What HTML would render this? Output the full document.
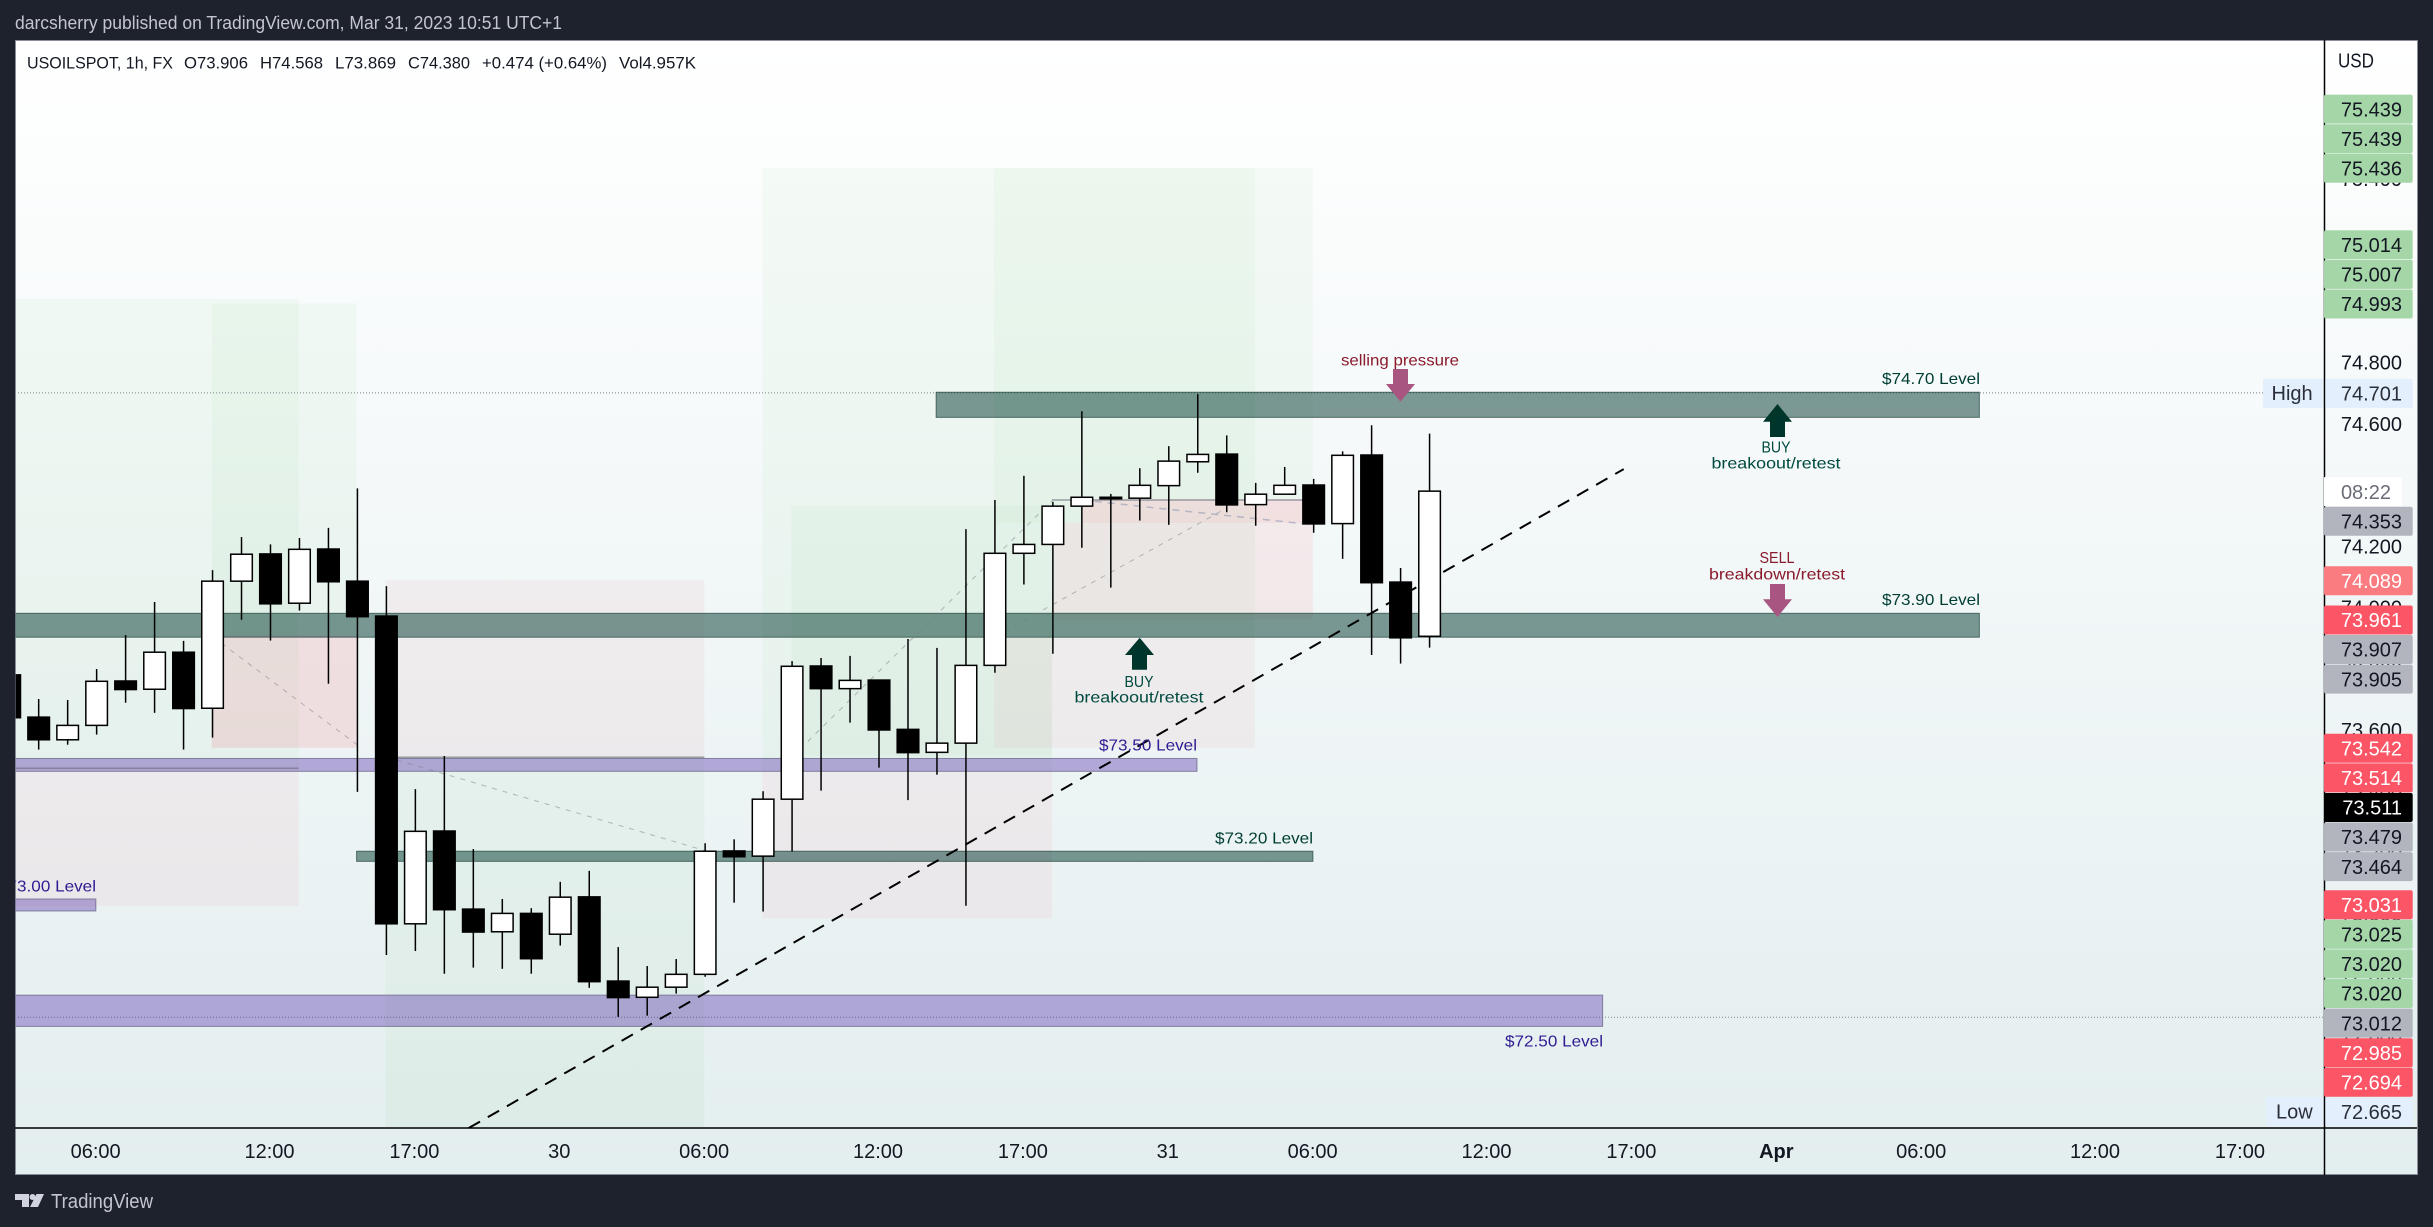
<!DOCTYPE html>
<html lang="en">
<head>
<meta charset="utf-8">
<title>USOILSPOT 1h chart</title>
<style>
html,body{margin:0;padding:0;background:#1e222d;width:2433px;height:1227px;overflow:hidden}
svg{display:block;position:absolute;left:0;top:0}
text{font-family:"Liberation Sans",Arial,sans-serif}
.lvl{font-size:16px;fill:#003d33}
.buy{font-size:16px;fill:#004a3f}
.sell{font-size:16px;fill:#8a1a2c}
.pur{font-size:16px;fill:#311b92}
.leg{font-size:17px;fill:#131722}
</style>
</head>
<body>
<svg id="chart" xmlns="http://www.w3.org/2000/svg" width="2433" height="1227" viewBox="0 0 2433 1227">
  <defs>
    <linearGradient id="bg" x1="0" y1="0" x2="0" y2="1">
      <stop offset="0" stop-color="#ffffff"/>
      <stop offset="1" stop-color="#e3eeef"/>
    </linearGradient>
    <clipPath id="plotClip"><rect x="15.5" y="40.5" width="2308.5" height="1087"/></clipPath>
  </defs>

  <text x="15" y="29" font-size="18" fill="#c3c6ce" textLength="547" lengthAdjust="spacingAndGlyphs">darcsherry published on TradingView.com, Mar 31, 2023 10:51 UTC+1</text>

  <rect x="15.5" y="40.5" width="2402" height="1134" fill="url(#bg)" stroke="#8a8e99" stroke-width="1"/>

  <g id="plot" clip-path="url(#plotClip)">
    <g id="zones"></g>
    <g id="refLines"></g>
    <g id="bands"></g>
    <g id="toolLines"></g>
    <g id="trend"></g>
    <g id="candles"></g>

    <g>
      <polygon points="1139.7,637.7 1154,655 1147,655 1147,669.7 1132,669.7 1132,655 1125,655" fill="#00352b"/>
      <text class="buy" x="1139" y="687" text-anchor="middle" textLength="29" lengthAdjust="spacingAndGlyphs">BUY</text>
      <text class="buy" x="1139" y="702.5" text-anchor="middle" textLength="129" lengthAdjust="spacingAndGlyphs">breakoout/retest</text>

      <polygon points="1777.5,404 1792,421.7 1785,421.7 1785,437 1770,437 1770,421.7 1763,421.7" fill="#00352b"/>
      <text class="buy" x="1776" y="452.5" text-anchor="middle" textLength="29" lengthAdjust="spacingAndGlyphs">BUY</text>
      <text class="buy" x="1776" y="468.5" text-anchor="middle" textLength="129" lengthAdjust="spacingAndGlyphs">breakoout/retest</text>

      <polygon points="1770,584 1785,584 1785,599.3 1792,599.3 1777.5,617 1763,599.3 1770,599.3" fill="#a85681"/>
      <text class="sell" x="1777" y="563" text-anchor="middle" textLength="35" lengthAdjust="spacingAndGlyphs">SELL</text>
      <text class="sell" x="1777" y="579.5" text-anchor="middle" textLength="136" lengthAdjust="spacingAndGlyphs">breakdown/retest</text>

      <polygon points="1393,369 1408,369 1408,384 1415,384 1400.4,401.7 1386,384 1393,384" fill="#a85681"/>
      <text class="sell" x="1400" y="365.5" text-anchor="middle" textLength="118" lengthAdjust="spacingAndGlyphs">selling pressure</text>

      <text class="lvl" x="1980" y="384" text-anchor="end" textLength="98" lengthAdjust="spacingAndGlyphs">$74.70 Level</text>
      <text class="lvl" x="1980" y="605" text-anchor="end" textLength="98" lengthAdjust="spacingAndGlyphs">$73.90 Level</text>
      <text class="lvl" x="1313" y="843.5" text-anchor="end" textLength="98" lengthAdjust="spacingAndGlyphs">$73.20 Level</text>
      <text class="pur" x="1197" y="750.5" text-anchor="end" textLength="98" lengthAdjust="spacingAndGlyphs">$73.50 Level</text>
      <text class="pur" x="96" y="891.5" text-anchor="end" textLength="98" lengthAdjust="spacingAndGlyphs">$73.00 Level</text>
      <text class="pur" x="1603" y="1046.5" text-anchor="end" textLength="98" lengthAdjust="spacingAndGlyphs">$72.50 Level</text>
    </g>
  </g>

  <g>
    <text class="leg" x="27" y="68.5" textLength="146" lengthAdjust="spacingAndGlyphs">USOILSPOT, 1h, FX</text>
    <text class="leg" x="184" y="68.5" textLength="64" lengthAdjust="spacingAndGlyphs">O73.906</text>
    <text class="leg" x="260" y="68.5" textLength="63" lengthAdjust="spacingAndGlyphs">H74.568</text>
    <text class="leg" x="335" y="68.5" textLength="61" lengthAdjust="spacingAndGlyphs">L73.869</text>
    <text class="leg" x="408" y="68.5" textLength="62" lengthAdjust="spacingAndGlyphs">C74.380</text>
    <text class="leg" x="482" y="68.5" textLength="125" lengthAdjust="spacingAndGlyphs">+0.474 (+0.64%)</text>
    <text class="leg" x="619" y="68.5" textLength="77" lengthAdjust="spacingAndGlyphs">Vol4.957K</text>
  </g>

  <line x1="2324.5" y1="40" x2="2324.5" y2="1175" stroke="#000" stroke-width="1.5"/>
  <line x1="15" y1="1128" x2="2417" y2="1128" stroke="#000" stroke-width="1.5"/>
  <text x="2338" y="67.5" font-size="20" fill="#131722" textLength="36" lengthAdjust="spacingAndGlyphs">USD</text>

  <g id="priceAxis"></g>
  <g id="timeAxis"></g>

  <g>
    <polygon points="15,1194 29,1194 29,1207 22,1207 22,1200 15,1200" fill="#d1d4dc"/>
    <circle cx="32.5" cy="1197" r="3" fill="#d1d4dc"/>
    <polygon points="36.5,1194 44,1194 38,1207 30,1207" fill="#d1d4dc"/>
    <text x="51" y="1208" font-size="20" fill="#c3c6ce" textLength="102" lengthAdjust="spacingAndGlyphs">TradingView</text>
  </g>
</svg>

<script>
// ---- candle data (one entry per hourly bar) ----
const opens  = [73.780,73.642,73.568,73.615,73.760,73.733,73.854,73.671,74.086,74.175,74.014,74.191,74.086,73.972,72.967,73.270,73.015,72.941,73.001,72.933,73.055,72.780,72.727,72.760,72.802,73.205,73.188,73.374,73.809,73.735,73.763,73.602,73.527,73.557,73.811,74.177,74.206,74.331,74.360,74.357,74.398,74.476,74.501,74.336,74.370,74.400,74.274,74.498,74.083,73.906];
const highs  = [73.830,73.701,73.698,73.799,73.910,74.018,73.891,74.122,74.230,74.206,74.227,74.260,74.389,74.070,73.407,73.515,73.211,73.048,73.018,73.104,73.140,72.891,72.829,72.852,73.230,73.243,73.400,73.825,73.835,73.842,73.763,73.897,73.868,74.256,74.351,74.430,74.345,74.641,74.371,74.455,74.527,74.697,74.562,74.407,74.459,74.420,74.510,74.595,74.129,74.568];
const lows   = [73.600,73.536,73.552,73.585,73.689,73.656,73.536,73.575,73.960,73.892,73.990,73.751,73.398,72.865,72.878,72.804,72.824,72.820,72.804,72.896,72.758,72.663,72.667,72.739,72.794,73.036,73.007,73.203,73.402,73.624,73.477,73.371,73.454,73.026,73.787,74.075,73.849,74.195,74.065,74.284,74.270,74.440,74.311,74.267,74.370,74.244,74.159,73.845,73.817,73.869];
const closes = [73.640,73.568,73.615,73.759,73.732,73.854,73.670,74.086,74.174,74.012,74.190,74.084,73.970,72.967,73.269,73.013,72.940,73.001,72.853,73.054,72.778,72.726,72.760,72.802,73.204,73.186,73.374,73.808,73.735,73.762,73.600,73.526,73.557,73.811,74.177,74.206,74.331,74.360,74.355,74.399,74.478,74.500,74.335,74.370,74.399,74.273,74.497,74.081,73.901,74.380];

// ---- time axis ----
const timeLabels = ['06:00','12:00','17:00','30','06:00','12:00','17:00','31','06:00','12:00','17:00','Apr','06:00','12:00','17:00'];
const timeBars   = [3,9,14,19,24,30,35,40,45,51,56,61,66,72,77];

// ---- price axis ----
const priceTicks = [75.4,75.2,75.0,74.8,74.6,74.4,74.2,74.0,73.8,73.6,73.4,73.2,73.0,72.8,72.6];
const labelPrices = [75.439,75.439,75.436,75.014,75.007,74.993,74.701,74.380,74.353,74.089,73.961,73.907,73.905,73.542,73.514,73.511,73.479,73.464,73.031,73.025,73.020,73.020,73.012,72.985,72.694,72.665];
const labelKinds  = ['green','green','green','green','green','green','extreme','countdown','gray','faded','red','gray','gray','red','red','last','gray','gray','red','green','green','green','gray','red','red','extreme'];
const extremeNames = {74.701:'High',72.665:'Low'};
const countdownText = '08:22';

// ---- position-tool zones drawn on the chart (bar index / price) ----
const zoneKinds = ['profit','stop','profit','stopStrong','stop','profit','profit','profit','profit','profit','stop','stopMid','stopStrong','stop','profit'];
const zoneBarStart = [0,0,7,7,13,13,26,34,26,27,34,36,37,26,34];
const zoneBarEnd   = [10,10,12,12,24,24,43,45,36,36,43,45,45,36,37];
const zoneTop      = [75.008,73.475,74.993,73.905,74.089,73.511,75.436,75.436,73.900,74.332,73.900,74.276,74.353,73.464,74.353];
const zoneBottom   = [73.475,73.025,73.905,73.542,73.511,72.300,73.900,74.353,73.464,73.514,73.542,73.961,74.276,72.985,74.276];

// ---- support / resistance bands ----
const bandKinds = ['teal','teal','teal','purple','purple','purple'];
const bandNames = ['74-70','73-90','73-20','73-50','73-00','72-50'];
const bandBarStart = [32,0,12,0,0,0];
const bandBarEnd   = [68,68,45,41,3,55];
const bandTop      = [74.703,73.981,73.204,73.507,73.048,72.734];
const bandBottom   = [74.621,73.903,73.171,73.465,73.009,72.632];

// ---- entry lines and tool diagonals ----
const entryPrices = [73.475,73.905,73.511,74.351];
const entryBarStart = [0,7,13,36];
const entryBarEnd = [10,12,24,45];
const diagBar1 = [7,13,27,34];
const diagPrice1 = [73.905,73.512,73.512,73.905];
const diagBar2 = [12,24,36,42];
const diagPrice2 = [73.551,73.206,74.351,74.325];
const exitBar1 = [37];
const exitPrice1 = [74.351];
const exitBar2 = [45];
const exitPrice2 = [74.270];

// ---- dashed trendline ----
const trendBars = [15.84,55.7];
const trendPrices = [72.300,74.452];

// ---- high / low reference lines ----
const highPrice = 74.701;
const lowPrice = 72.665;

// ---- axis functions ----
const xBar = b => 9.7 + 28.977 * b;
const xEdge = b => xBar(b) - 0.8;
const yPrice = p => (75.984 - p) * 306.2;

const NS = 'http://www.w3.org/2000/svg';
function el(tag, attrs, parent) {
  const n = document.createElementNS(NS, tag);
  for (const k in attrs) n.setAttribute(k, attrs[k]);
  parent.appendChild(n);
  return n;
}
const $ = id => document.getElementById(id);

// zones
const zoneFill = {
  profit: 'rgba(76,175,80,0.045)',
  stop: 'rgba(242,54,69,0.05)',
  stopMid: 'rgba(242,54,69,0.07)',
  stopStrong: 'rgba(242,54,69,0.12)'
};
zoneKinds.forEach((kind, i) => {
  const r = el('rect', {
    x: xEdge(zoneBarStart[i]),
    y: yPrice(zoneTop[i]),
    width: xEdge(zoneBarEnd[i]) - xEdge(zoneBarStart[i]),
    height: yPrice(zoneBottom[i]) - yPrice(zoneTop[i]),
    fill: zoneFill[kind]
  }, $('zones'));
  
  
});

// high/low dotted lines
const highLine = el('line', {x1: 15, x2: 2263, y1: yPrice(highPrice), y2: yPrice(highPrice), stroke: '#7b7f8a', 'stroke-width': 1, 'stroke-dasharray': '1 2'}, $('refLines'));


const lowLine = el('line', {x1: 15, x2: 2324, y1: yPrice(lowPrice) + 1, y2: yPrice(lowPrice) + 1, stroke: '#7b7f8a', 'stroke-width': 1, 'stroke-dasharray': '1 2'}, $('refLines'));



// bands
const bandFill = {teal: 'rgba(0,55,45,0.5)', purple: 'rgba(81,45,168,0.38)'};
const bandStroke = {teal: 'rgba(40,75,68,0.75)', purple: 'rgba(110,105,140,0.8)'};
bandKinds.forEach((kind, i) => {
  const r = el('rect', {
    x: xEdge(bandBarStart[i]),
    y: yPrice(bandTop[i]),
    width: xEdge(bandBarEnd[i]) - xEdge(bandBarStart[i]),
    height: yPrice(bandBottom[i]) - yPrice(bandTop[i]),
    fill: bandFill[kind],
    stroke: bandStroke[kind],
    'stroke-width': 1
  }, $('bands'));
  
  
});

// entry lines
entryPrices.forEach((p, i) => {
  const l = el('line', {
    x1: xEdge(entryBarStart[i]), x2: xEdge(entryBarEnd[i]),
    y1: yPrice(p), y2: yPrice(p),
    stroke: 'rgba(110,112,125,0.65)', 'stroke-width': 1.5
  }, $('toolLines'));
  
  
});

// diagonals
diagBar1.forEach((b, i) => {
  const l = el('line', {
    x1: xBar(b), y1: yPrice(diagPrice1[i]),
    x2: xBar(diagBar2[i]), y2: yPrice(diagPrice2[i]),
    stroke: 'rgba(120,123,134,0.5)', 'stroke-width': 1, 'stroke-dasharray': '5 6'
  }, $('toolLines'));
  
  
});
exitBar1.forEach((b, i) => {
  const l = el('line', {
    x1: xBar(b), y1: yPrice(exitPrice1[i]),
    x2: xBar(exitBar2[i]), y2: yPrice(exitPrice2[i]),
    stroke: 'rgba(150,160,185,0.65)', 'stroke-width': 1.5, 'stroke-dasharray': '7 6'
  }, $('toolLines'));
  
  
});

// trendline
const trendLine = el('line', {
  x1: xBar(trendBars[0]), y1: yPrice(trendPrices[0]),
  x2: xBar(trendBars[1]), y2: yPrice(trendPrices[1]),
  stroke: '#000', 'stroke-width': 2, 'stroke-dasharray': '13 9'
}, $('trend'));



// candles
opens.forEach((o, i) => {
  const c = closes[i];
  const x = xBar(i);
  const top = yPrice(Math.max(o, c));
  const bottom = yPrice(Math.min(o, c));
  const up = c > o;
  const wick = el('line', {x1: x, x2: x, y1: yPrice(highs[i]), y2: yPrice(lows[i]), stroke: '#000', 'stroke-width': 1.5}, $('candles'));
  
  
  const body = el('rect', {
    x: x - 10.8, y: top, width: 21.6, height: Math.max(bottom - top, 1),
    fill: up ? '#fff' : '#000', stroke: '#000', 'stroke-width': 1.5
  }, $('candles'));
  
  
});

// time axis labels
timeLabels.forEach((label, i) => {
  const t = el('text', {
    x: xBar(timeBars[i]) - 1, y: 1158, 'text-anchor': 'middle', 'font-size': 20,
    fill: '#131722', 'font-weight': label === 'Apr' ? 'bold' : 'normal'
  }, $('timeAxis'));
  t.textContent = label;
  
  
});

// price ticks
priceTicks.forEach(p => {
  const t = el('text', {x: 2402, y: yPrice(p) + 7.2, 'text-anchor': 'end', 'font-size': 20, fill: '#131722'}, $('priceAxis'));
  t.textContent = p.toFixed(3);
  
  
});

// stacked price labels: piled upward above the countdown, downward below it
const boxH = 29.6;
const pivot = labelKinds.indexOf('countdown');
const centers = labelPrices.map(yPrice);
for (let i = pivot - 1; i >= 0; i--) centers[i] = Math.min(centers[i], centers[i + 1] - boxH);
for (let i = pivot + 1; i < centers.length; i++) centers[i] = Math.max(centers[i], centers[i - 1] + boxH);

const boxFill = {green: '#a5d6a7', gray: '#b2b5be', red: '#fc5566', faded: '#fa7b80', last: '#000', extreme: '#e3effd', countdown: '#fff'};
const boxText = {green: '#131722', gray: '#131722', red: '#fff', faded: '#fff', last: '#fff', extreme: '#2a2e39', countdown: '#6a6d78'};

labelPrices.forEach((p, i) => {
  const kind = labelKinds[i];
  const cy = centers[i] + 0.5;
  const isCountdown = kind === 'countdown';
  const left = kind === 'extreme' ? 2325.4 : 2324;
  const box = el('rect', {
    x: left, y: cy - 14.5,
    width: (isCountdown ? 2402 : 2412.7) - left, height: 29,
    rx: isCountdown ? 0 : 2, fill: boxFill[kind]
  }, $('priceAxis'));
  
  
  const txt = el('text', {
    x: isCountdown ? 2391 : 2402, y: cy + 7.2, 'text-anchor': 'end', 'font-size': 20, fill: boxText[kind]
  }, $('priceAxis'));
  txt.textContent = isCountdown ? countdownText : p.toFixed(3);
  
  
  if (kind === 'extreme') {
    const name = extremeNames[p];
    const boxLeft = name === 'High' ? 2263 : 2266;
    const side = el('rect', {x: boxLeft, y: cy - 14.5, width: 2323.5 - boxLeft, height: 29, rx: 2, fill: boxFill[kind]}, $('priceAxis'));
    
    
    const sideText = el('text', {x: 2312.7, y: cy + 6.6, 'text-anchor': 'end', 'font-size': 20, fill: boxText[kind]}, $('priceAxis'));
    sideText.textContent = name;
    
    
  }
});
</script>
</body>
</html>
